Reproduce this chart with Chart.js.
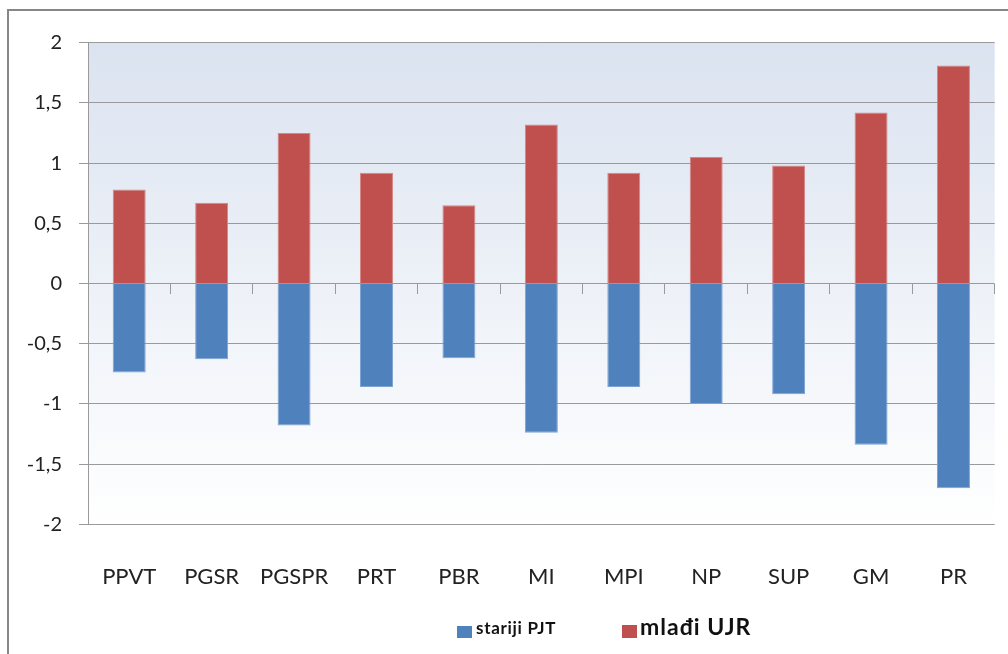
<!DOCTYPE html>
<html>
<head>
<meta charset="utf-8">
<script src="https://cdn.jsdelivr.net/npm/chart.js@4.4.1/dist/chart.umd.min.js"></script>
<style>
  html, body { margin: 0; padding: 0; background: #ffffff; }
  body { width: 1008px; height: 654px; position: relative; overflow: hidden; font-family: Lato, "Noto Sans", sans-serif; }
  #frame { position: absolute; left: 7px; top: 9px; width: 1100px; height: 800px; border-left: 2px solid #878787; border-top: 2px solid #878787; }
  #c { position: absolute; left: 0; top: 0; }
  .lg { position: absolute; white-space: nowrap; color: #111; }
  .box { position: absolute; }
</style>
</head>
<body>
<div id="frame"></div>
<canvas id="c" width="1008" height="654"></canvas>
<div class="box" style="left:457px;top:626px;width:15px;height:12px;background:#4F81BD;"></div>
<div class="lg" id="lg1" style="left:476px;top:618px;font-size:17px;font-weight:bold;letter-spacing:0.7px;line-height:20px;">stariji PJT</div>
<div class="box" style="left:622px;top:625px;width:15px;height:13px;background:#C0504D;"></div>
<div class="lg" id="lg2" style="left:640px;top:613px;font-size:23px;font-weight:bold;letter-spacing:1px;line-height:26px;">mlađi UJR</div>
<script>
const categories = ['PPVT', 'PGSR', 'PGSPR', 'PRT', 'PBR', 'MI', 'MPI', 'NP', 'SUP', 'GM', 'PR'];
const seriesNames = ['stariji PJT', 'mlađi UJR'];
const starijiPJT = [-0.74, -0.63, -1.18, -0.86, -0.62, -1.24, -0.86, -1.00, -0.92, -1.34, -1.70];
const mladjiUJR = [0.78, 0.67, 1.25, 0.92, 0.65, 1.32, 0.92, 1.05, 0.98, 1.42, 1.81];
const yTicks = [-2, -1.5, -1, -0.5, 0, 0.5, 1, 1.5, 2];

Chart.defaults.font.family = 'Lato, "Noto Sans", sans-serif';

const bgPlugin = {
  id: 'plotBg',
  beforeDraw(chart) {
    const { ctx, chartArea: a } = chart;
    const g = ctx.createLinearGradient(0, a.top, 0, a.bottom);
    g.addColorStop(0, '#DBE3F0');
    g.addColorStop(1, '#FFFFFF');
    ctx.save();
    ctx.fillStyle = g;
    ctx.fillRect(a.left, a.top, a.right - a.left, a.bottom - a.top);
    ctx.restore();
  }
};

new Chart(document.getElementById('c'), {
  type: 'bar',
  data: {
    labels: categories,
    datasets: [
      { label: seriesNames[0], data: starijiPJT, backgroundColor: '#4F81BD', borderColor: '#7EA3D3', borderWidth: 1, borderSkipped: 'start' },
      { label: seriesNames[1], data: mladjiUJR, backgroundColor: '#C0504D', borderColor: '#D68684', borderWidth: 1, borderSkipped: 'start' }
    ]
  },
  options: {
    responsive: false,
    animation: false,
    devicePixelRatio: 1,
    categoryPercentage: 1,
    barPercentage: 0.4,
    layout: { padding: { left: 0, top: 42.7, right: 13.3, bottom: 49.7 } },
    plugins: { legend: { display: false }, tooltip: { enabled: false } },
    scales: {
      x: {
        stacked: true,
        offset: true,
        grid: { display: false },
        border: { display: false },
        ticks: { color: '#222', font: { size: 22 }, padding: 31, maxRotation: 0 },
        afterFit(s) { s.height = 80; }
      },
      x2: {
        type: 'category',
        position: { y: 0 },
        offset: true,
        grid: { display: true, offset: true, drawOnChartArea: false, drawTicks: true, tickLength: 10, color: '#9A9A9A', lineWidth: 1 },
        border: { display: false },
        ticks: { display: false }
      },
      y: {
        stacked: true,
        min: -2,
        max: 2,
        afterBuildTicks(s) { s.ticks = yTicks.map(v => ({ value: v })); },
        grid: { color: '#9A9A9A', lineWidth: 1, tickLength: 9, drawTicks: true },
        border: { display: true, color: '#9A9A9A', width: 1 },
        ticks: {
          color: '#222',
          font: { size: 20 },
          padding: 17,
          callback: v => String(v).replace('.', ',')
        },
        afterFit(s) { s.width = 88; }
      }
    }
  },
  plugins: [bgPlugin]
});
</script>
</body>
</html>
